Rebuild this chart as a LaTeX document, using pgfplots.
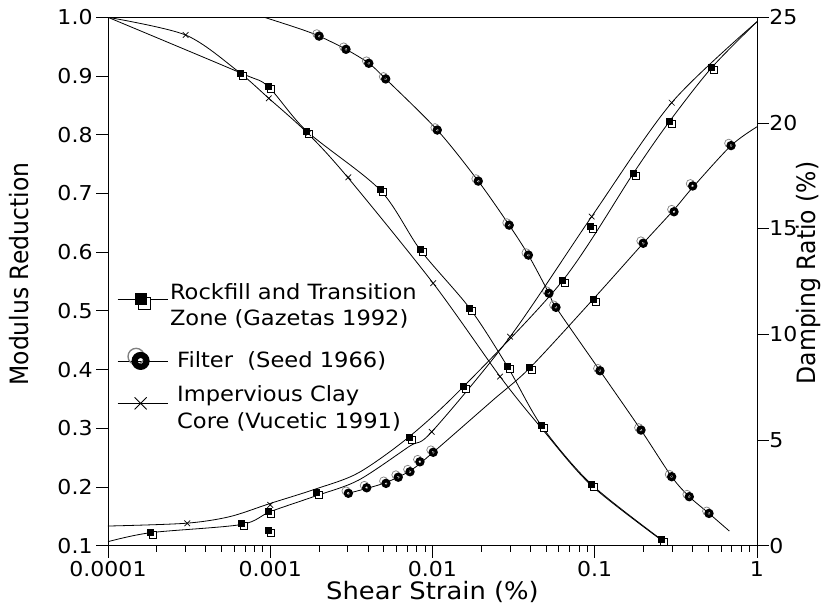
\documentclass[border=0pt]{standalone}
\usepackage{fontspec}
\setmainfont{DejaVu Sans}[FakeStretch=1.075]
\newfontfamily\vfont{DejaVu Sans}
\usepackage{pgfplots}
\pgfplotsset{compat=1.18}

\pgfdeclareplotmark{dsq}{%
  \pgfpathrectangle{\pgfpoint{-0.34\pgfplotmarksize}{-1.66\pgfplotmarksize}}{\pgfpoint{2\pgfplotmarksize}{2\pgfplotmarksize}}%
  \pgfsetfillcolor{white}\pgfsetstrokecolor{black}%
  \pgfsetlinewidth{0.18\pgfplotmarksize}%
  \pgfusepath{fill,stroke}%
  \pgfpathrectangle{\pgfpoint{-\pgfplotmarksize}{-\pgfplotmarksize}}{\pgfpoint{2\pgfplotmarksize}{2\pgfplotmarksize}}%
  \pgfsetfillcolor{black}%
  \pgfusepath{fill}%
}
\pgfdeclareplotmark{dcirc}{%
  \pgfpathcircle{\pgfpoint{-0.5\pgfplotmarksize}{0.5\pgfplotmarksize}}{0.9\pgfplotmarksize}%
  \pgfsetstrokecolor{gray}%
  \pgfsetlinewidth{0.15\pgfplotmarksize}%
  \pgfusepath{stroke}%
  \pgfpathcircle{\pgfpointorigin}{0.66\pgfplotmarksize}%
  \pgfsetstrokecolor{black}%
  \pgfsetlinewidth{0.68\pgfplotmarksize}%
  \pgfusepath{stroke}%
}

\begin{document}
\begin{tikzpicture}
\path[use as bounding box] (0,0) rectangle (822pt,608pt);
% ---------------- left axis: modulus reduction ----------------
\begin{axis}[
  at={(108pt,62.3pt)}, anchor=south west,
  scale only axis, width=649pt, height=528.4pt,
  xmode=log, xmin=0.0001, xmax=1,
  ymin=0.1, ymax=1.0,
  tick align=outside,
  major tick length=12pt, minor tick length=6pt,
  tick style={black, line width=0.8pt},
  axis line style={line width=0.9pt},
  tick label style={font=\fontsize{20.5}{24}\selectfont},
  xtick={0.0001,0.001,0.01,0.1,1},
  xticklabels={0.0001,0.001,0.01,0.1,1},
  minor xtick={0.0002,0.0003,0.0004,0.0005,0.0006,0.0007,0.0008,0.0009,
               0.002,0.003,0.004,0.005,0.006,0.007,0.008,0.009,
               0.02,0.03,0.04,0.05,0.06,0.07,0.08,0.09,
               0.2,0.3,0.4,0.5,0.6,0.7,0.8,0.9},
  ytick={0.1,0.2,0.3,0.4,0.5,0.6,0.7,0.8,0.9,1.0},
  yticklabels={0.1,0.2,0.3,0.4,0.5,0.6,0.7,0.8,0.9,1.0},
  xtick pos=bottom, ytick pos=left,
  xlabel={Shear Strain (\%)},
  xlabel style={at={(axis description cs:0.5,-0.0876)}, anchor=center, font=\fontsize{24}{28}\selectfont},
  ylabel={Modulus Reduction},
  ylabel style={at={(axis description cs:-0.137,0.514)}, anchor=center, yscale=1.075, font=\vfont\fontsize{23.5}{28}\selectfont},
  legend style={at={(axis description cs:0.0139,0.501)}, anchor=north west,
    draw=none, fill=none, inner sep=0pt, font=\fontsize{21}{26.5}\selectfont,
    nodes={inner sep=2pt},
    cells={align=left, anchor=base west}, row sep=14pt},
  legend image code/.code={\draw[mark repeat=2,mark phase=2,#1] plot coordinates {(0pt,0pt) (23pt,0pt) (50pt,0pt)};},
]
% legend images
\addlegendimage{black, line width=0.8pt, mark=dsq, mark size=6pt, yshift=26.5pt}
\addlegendentry{Rockfill and Transition\\Zone (Gazetas 1992)}
\addlegendimage{black, line width=0.8pt, mark=dcirc, mark size=9pt}
\addlegendentry{\raisebox{-6.7pt}{\rule{0pt}{22.5pt}\ Filter\ \ (Seed 1966)}}
\addlegendimage{black, line width=0.8pt, mark=x, mark size=8.5pt, yshift=25pt}
\addlegendentry{\ Impervious Clay\\\ Core (Vucetic 1991)}

% rockfill modulus curve
\addplot[black, line width=0.8pt, smooth, no markers, forget plot] coordinates {(0.0001,1.0) (0.00066,0.905) (0.00097,0.882) (0.00168,0.806) (0.00475,0.706) (0.0084,0.604) (0.017,0.504) (0.029,0.405) (0.047,0.304) (0.095,0.205) (0.259,0.11)};
% clay core modulus curve
\addplot[black, line width=0.8pt, smooth, no markers, forget plot] coordinates {(0.0001,1.0) (0.0003,0.97) (0.00062,0.91) (0.00098,0.862) (0.0017,0.8025) (0.003,0.7275) (0.0101,0.547) (0.0261,0.388) (0.047,0.300) (0.095,0.203) (0.265,0.107)};
% filter modulus curve
\addplot[black, line width=0.8pt, smooth, no markers, forget plot] coordinates {(0.00092,1.0) (0.0015,0.981) (0.002,0.968) (0.00293,0.9455) (0.00405,0.9217) (0.00515,0.895) (0.0107,0.808) (0.01915,0.721) (0.0297,0.646) (0.039,0.595) (0.0522,0.530) (0.0577,0.506) (0.1077,0.398) (0.1928,0.297) (0.298,0.2175) (0.3826,0.1835) (0.506,0.155) (0.675,0.125)};

% markers
\addplot[only marks, mark=dsq, mark size=3.5pt, forget plot] coordinates {(0.00066,0.905) (0.00097,0.882) (0.00168,0.806) (0.00475,0.706) (0.0084,0.604) (0.017,0.504) (0.029,0.405) (0.047,0.304) (0.095,0.205) (0.259,0.11)};
\addplot[only marks, mark=dcirc, mark size=4.6pt, forget plot] coordinates {(0.002,0.968) (0.00293,0.9455) (0.00405,0.9217) (0.00515,0.895) (0.0107,0.808) (0.01915,0.721) (0.0297,0.646) (0.039,0.595) (0.0522,0.530) (0.0577,0.506) (0.1077,0.398) (0.1928,0.297) (0.298,0.2175) (0.3826,0.1835) (0.506,0.155)};
\addplot[only marks, mark=x, mark size=4pt, line width=0.7pt, forget plot] coordinates {(0.000301,0.97) (0.00098,0.862) (0.001715,0.8025) (0.00303,0.7275) (0.0101,0.547) (0.0261,0.388)};
\end{axis}

% ---------------- right axis: damping ratio ----------------
\begin{axis}[
  at={(108pt,62.3pt)}, anchor=south west,
  scale only axis, width=649pt, height=528.4pt,
  xmode=log, xmin=0.0001, xmax=1,
  ymin=0, ymax=25,
  axis x line=none, axis y line*=right,
  tick align=outside,
  major tick length=12pt,
  tick style={black, line width=0.8pt},
  axis line style={line width=0.9pt},
  tick label style={font=\fontsize{20.5}{24}\selectfont},
  ytick={0,5,10,15,20,25}, yticklabels={0,5,10,15,20,25}, ytick pos=right,
  yticklabel style={xshift=-3pt},
  ylabel={Damping Ratio (\%)},
  ylabel style={at={(axis description cs:1.08,0.516)}, anchor=center, yscale=1.075, font=\vfont\fontsize{23.5}{28}\selectfont},
]
% damping curve starting high at left (joins the upper square branch)
\addplot[black, line width=0.8pt, smooth, no markers, forget plot] coordinates {(0.0001,0.93) (0.0003,1.06) (0.00056,1.37) (0.001,2.0) (0.0019,2.68) (0.0035,3.45) (0.0072,5.16) (0.0155,7.52) (0.0634,12.54) (0.173,17.62) (0.288,20.06) (0.526,22.62) (1,24.79)};
% damping curve starting low at left (joins the cross branch)
\addplot[black, line width=0.8pt, smooth, no markers, forget plot] coordinates {(0.0001,0.19) (0.000183,0.615) (0.00066,1.0) (0.001,1.61) (0.0019,2.35) (0.0035,3.1) (0.0072,4.7) (0.0099,5.39) (0.0301,9.89) (0.0957,15.57) (0.298,20.96) (1,24.79)};
% filter damping curve
\addplot[black, line width=0.8pt, smooth, no markers, forget plot] coordinates {(0.00303,2.48) (0.005,2.95) (0.0073,3.55) (0.0101,4.42) (0.0236,6.89) (0.0399,8.42) (0.098,11.67) (0.199,14.31) (0.308,15.9) (0.4015,16.95) (0.692,18.93) (1,19.82)};

% markers
\addplot[only marks, mark=dsq, mark size=3.5pt, forget plot] coordinates {(0.000183,0.615) (0.000664,1.06) (0.00097,1.61) (0.00097,0.74) (0.00193,2.53) (0.0072,5.11) (0.0155,7.52) (0.0399,8.42) (0.0634,12.54) (0.098,11.67) (0.0948,15.09) (0.173,17.62) (0.288,20.06) (0.526,22.62)};
\addplot[only marks, mark=dcirc, mark size=4.6pt, forget plot] coordinates {(0.00303,2.48) (0.00393,2.74) (0.00517,2.95) (0.00615,3.24) (0.00727,3.50) (0.00837,3.97) (0.0101,4.42) (0.199,14.31) (0.308,15.80) (0.4015,17.02) (0.692,18.93)};
\addplot[only marks, mark=x, mark size=4pt, line width=0.7pt, forget plot] coordinates {(0.000308,1.06) (0.001,1.93) (0.00989,5.39) (0.0301,9.89) (0.0957,15.57) (0.298,20.96)};
\end{axis}
\end{tikzpicture}
\end{document}
